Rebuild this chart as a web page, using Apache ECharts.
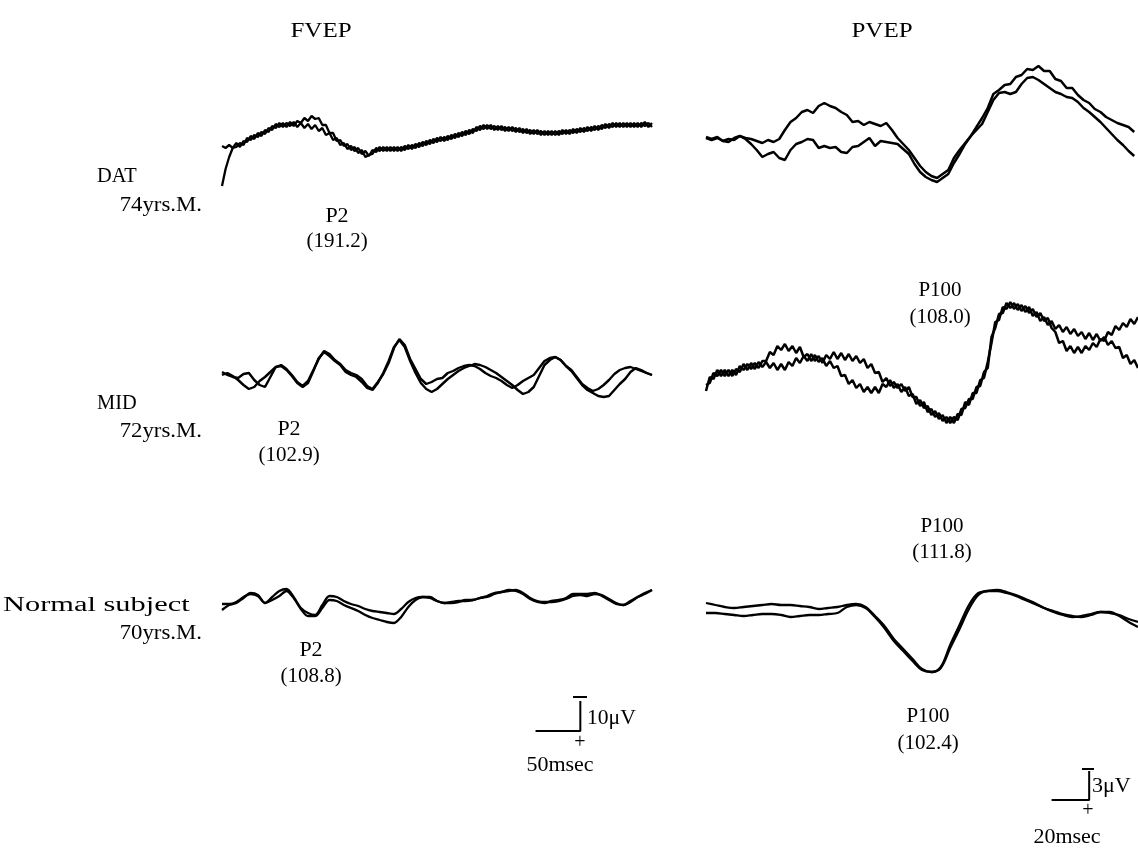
<!DOCTYPE html>
<html><head><meta charset="utf-8">
<script src="https://cdn.jsdelivr.net/npm/echarts@6/dist/echarts.min.js"></script>
<style>html,body{margin:0;padding:0;background:#fff}#c{width:1138px;height:850px}</style>
</head><body><div id="c"></div>
<script>
// ---- sampling steps (ms) ----
const fvepDatStep = 4, fvepMidStep = 6, fvepNorStep = 8;
const pvepDatStep = 3, pvepMidStep = 2, pvepNorStep = 5;

// ---- FVEP traces (amplitude, positive = down) ----
const fvepDatA = [41,24,12,3,2,-2,0,-7,-5,-10,-8,-13,-11,-17,-15,-21,-18,-22,-18,-23,-19,-24,-22,-27,-24,-29,-26,-27,-20,-20,-12,-12,-4,-5,1,-1,5,2,8,5,12,10,9,3,6,2,6,2,6,2,6,1,4,0,3,-2,1,-4,-1,-6,-3,-8,-4,-9,-6,-11,-8,-13,-10,-15,-12,-18,-15,-20,-16,-20,-15,-19,-15,-18,-14,-18,-13,-17,-12,-16,-11,-15,-11,-14,-10,-14,-10,-14,-10,-15,-11,-15,-12,-16,-13,-17,-14,-18,-15,-19,-16,-21,-17,-22,-18,-22,-18,-22,-18,-22,-18,-22,-19,-22,-18];
const fvepDatB = [1,3,0,3,-2,2,-4,-3,-9,-6,-12,-9,-15,-13,-19,-17,-22,-18,-22,-19,-23,-18,-22,-17,-21,-16,-20,-14,-17,-10,-12,-5,-7,0,-2,4,1,6,3,9,6,11,5,7,2,6,2,6,2,6,2,5,0,4,-1,2,-3,0,-5,-2,-7,-4,-8,-5,-10,-7,-12,-9,-14,-11,-16,-14,-19,-16,-20,-16,-19,-15,-19,-14,-18,-14,-17,-13,-16,-12,-15,-11,-15,-10,-14,-10,-14,-10,-14,-11,-15,-11,-16,-12,-17,-13,-18,-14,-19,-15,-20,-17,-21,-18,-22,-18,-22,-18,-22,-18,-22,-18,-23,-18,-22];
const fvepMidA = [-3,0,2,3,-1,-2,5,10,12,2,-8,-10,-6,0,7,11,6,-5,-16,-24,-21,-15,-11,-5,-2,0,4,11,14,7,-1,-12,-27,-36,-30,-16,-6,4,9,7,4,3,-2,-4,-7,-9,-10,-9,-6,-2,1,3,6,10,13,10,6,3,0,-7,-14,-17,-18,-15,-9,-5,2,9,13,16,14,10,5,-1,-5,-7,-8,-6,-4,-2,0];
const fvepMidB = [0,-2,1,5,10,14,12,6,2,-3,-8,-9,-5,1,8,12,8,-4,-17,-23,-19,-14,-10,-3,0,2,7,13,15,8,-2,-14,-28,-35,-28,-14,-2,8,14,17,14,9,4,0,-4,-7,-9,-11,-10,-8,-5,-2,2,6,10,15,19,17,12,1,-10,-15,-18,-15,-9,-4,3,10,15,18,21,22,21,15,9,4,-3,-7,-5,-2,0];
const fvepNorA = [10,5,3,-2,-7,-5,3,-3,-9,-11,-3,8,13,15,5,-4,-3,1,4,6,9,11,12,13,14,9,2,-2,-3,-3,1,3,2,1,1,0,-2,-3,-6,-8,-9,-10,-7,-2,1,2,2,1,-1,-4,-5,-4,-6,-5,-1,3,5,1,-3,-7,-10];
const fvepNorB = [4,4,2,-3,-6,-4,3,0,-4,-9,-2,9,16,16,8,0,1,5,8,11,15,18,20,22,23,17,7,0,-3,-2,1,3,3,2,0,0,-2,-4,-7,-8,-10,-9,-6,-1,2,3,1,0,-2,-6,-6,-6,-7,-4,0,4,5,2,-3,-6,-10];

// ---- PVEP traces ----
const pvepDatA = [7,9,7,11,9,10,6,8,9,11,13,10,12,9,0,-8,-12,-18,-20,-17,-24,-27,-24,-22,-18,-15,-8,-9,-5,-8,-6,-4,-7,0,8,14,20,28,36,42,46,48,44,40,28,20,13,6,-3,-12,-22,-36,-40,-45,-46,-53,-55,-61,-60,-64,-59,-59,-51,-49,-42,-42,-35,-30,-27,-21,-18,-13,-10,-7,-5,-3,2];
const pvepDatB = [8,10,8,11,12,8,6,9,14,20,27,24,22,28,30,20,14,12,9,10,18,16,18,17,22,23,17,16,12,8,16,11,12,13,14,19,24,34,42,47,50,52,48,44,33,24,14,6,0,-6,-18,-30,-37,-38,-36,-38,-46,-52,-53,-50,-46,-42,-38,-36,-33,-32,-28,-22,-18,-13,-8,-2,4,10,15,21,26];
const pvepMidA = [31,17,19,10,16,10,16,10,15,6,10,4,9,3,8,1,1,-8,-5,-14,-10,-16,-9,-14,-7,-13,-3,-6,1,-5,2,-2,6,1,8,6,16,15,24,20,28,24,32,27,33,27,33,24,27,20,28,24,32,27,36,34,44,40,48,46,55,51,59,55,63,57,63,54,55,42,45,33,33,20,18,2,-17,-38,-40,-53,-51,-58,-51,-56,-49,-54,-47,-51,-43,-47,-39,-42,-32,-28,-17,-19,-9,-14,-7,-13,-7,-14,-10,-17,-13,-21,-19,-28,-25,-34,-30,-37,-33,-41,-36,-43];
const pvepMidB = [25,23,13,16,10,16,10,16,9,12,4,10,3,9,2,7,2,8,3,10,4,10,2,6,-2,3,-4,1,-6,1,-4,3,-5,-1,-8,-1,-7,0,-6,1,-4,3,-1,8,4,13,12,22,18,26,22,28,24,31,27,37,37,46,42,52,49,57,53,61,57,63,57,60,49,48,39,39,27,26,12,8,-23,-32,-46,-47,-57,-52,-57,-50,-55,-48,-53,-44,-48,-39,-43,-35,-39,-31,-35,-28,-33,-26,-31,-24,-28,-21,-27,-20,-26,-19,-23,-15,-19,-12,-13,-2,-5,4,0,8];
const pvepNorA = [-27,-25,-23,-22,-23,-24,-25,-26,-25,-25,-24,-23,-21,-22,-23,-25,-26,-23,-14,-4,9,19,29,39,42,37,15,-5,-25,-37,-39,-40,-38,-35,-31,-27,-22,-19,-16,-14,-13,-15,-18,-18,-14,-8,-3];
const pvepNorB = [-17,-17,-16,-15,-14,-15,-16,-16,-15,-13,-14,-15,-15,-16,-17,-23,-25,-22,-13,-2,11,21,31,40,42,38,18,-1,-21,-35,-39,-39,-37,-34,-30,-26,-22,-18,-15,-13,-14,-16,-18,-17,-15,-11,-8];

// ---- scale bars ----
const fvepBar = { ms: 50, uv: 10, end: 400 };
const pvepBar = { ms: 20, uv: 3, end: 204 };

// ---- texts ----
const panelTitles = ['FVEP', 'PVEP'];
const rowNames = ['DAT', 'MID', 'Normal subject'];
const rowAges = ['74yrs.M.', '72yrs.M.', '70yrs.M.'];
const fvepPeaks = [['P2', '(191.2)'], ['P2', '(102.9)'], ['P2', '(108.8)']];
const pvepPeaks = [['P100', '(108.0)'], ['P100', '(111.8)'], ['P100', '(102.4)']];

const FONT = '20px "Liberation Serif", "Times New Roman", serif';

const grids = [
  { left: 222, width: 430, top: 100, height: 90 },
  { left: 222, width: 430, top: 330, height: 90 },
  { left: 222, width: 430, top: 570, height: 60 },
  { left: 706, width: 432, top: 60, height: 140 },
  { left: 706, width: 432, top: 290, height: 140 },
  { left: 706, width: 432, top: 580, height: 100 },
  { left: 222, width: 430, top: 701, height: 30 },
  { left: 706, width: 432, top: 771, height: 29 }
];
const yr = [[-45,45],[-45,45],[-30,30],[-70,70],[-70,70],[-50,50],[0,fvepBar.uv],[0,pvepBar.uv]];
const xr = [480,480,480,230,230,230,480,230];

function trace(g, step, arr, w, sm) {
  return { type: 'line', xAxisIndex: g, yAxisIndex: g, data: arr.map((v, i) => [i * step, v]),
    symbol: 'none', smooth: sm || false, lineStyle: { color: '#000', width: w }, silent: true, clip: false, z: 3 };
}
function bar(g, b, w) {
  return { type: 'line', xAxisIndex: g, yAxisIndex: g, symbol: 'none', clip: false, silent: true,
    lineStyle: { color: '#000', width: w },
    data: [[b.end - b.ms, b.uv], [b.end, b.uv], [b.end, 0]] };
}

const series = [
  trace(0, fvepDatStep, fvepDatA, 2.3), trace(0, fvepDatStep, fvepDatB, 2.3),
  trace(1, fvepMidStep, fvepMidA, 2.4), trace(1, fvepMidStep, fvepMidB, 2.4),
  trace(2, fvepNorStep, fvepNorA, 2.3, 0.3), trace(2, fvepNorStep, fvepNorB, 2.3, 0.3),
  trace(3, pvepDatStep, pvepDatA, 2.5), trace(3, pvepDatStep, pvepDatB, 2.5),
  trace(4, pvepMidStep, pvepMidA, 2.5), trace(4, pvepMidStep, pvepMidB, 2.5),
  trace(5, pvepNorStep, pvepNorA, 2.3, 0.35), trace(5, pvepNorStep, pvepNorB, 2.3, 0.35),
  bar(6, fvepBar, 2), bar(7, pvepBar, 2)
];

function txt(text, x, y, align, sx) {
  const a = align || 'center';
  return { type: 'text', silent: true, x, y, scaleX: sx || 1, scaleY: 1,
    style: { text, x: 0, y: 0, font: FONT, fill: '#000',
      textAlign: a, textVerticalAlign: 'middle', align: a, verticalAlign: 'middle' } };
}
const graphics = [
  txt(panelTitles[0], 321, 32, 'center', 1.25), txt(panelTitles[1], 882, 32, 'center', 1.25),
  txt(rowNames[0], 97, 177, 'left', 1.02), txt(rowAges[0], 202, 206, 'right', 1.14),
  txt(rowNames[1], 97, 404, 'left', 1.02), txt(rowAges[1], 202, 432, 'right', 1.14),
  txt(rowNames[2], 3, 606, 'left', 1.52), txt(rowAges[2], 202, 634, 'right', 1.14),
  txt(fvepPeaks[0][0], 337, 217, 'center', 1.1), txt(fvepPeaks[0][1], 337, 242, 'center', 1.05),
  txt(fvepPeaks[1][0], 289, 430, 'center', 1.1), txt(fvepPeaks[1][1], 289, 456, 'center', 1.05),
  txt(fvepPeaks[2][0], 311, 651, 'center', 1.1), txt(fvepPeaks[2][1], 311, 677, 'center', 1.05),
  txt(pvepPeaks[0][0], 940, 291, 'center', 1.05), txt(pvepPeaks[0][1], 940, 318, 'center', 1.05),
  txt(pvepPeaks[1][0], 942, 527, 'center', 1.05), txt(pvepPeaks[1][1], 942, 553, 'center', 1.05),
  txt(pvepPeaks[2][0], 928, 717, 'center', 1.05), txt(pvepPeaks[2][1], 928, 744, 'center', 1.05),
  // scale bar marks and labels
  { type: 'line', silent: true, shape: { x1: 573, y1: 697, x2: 587, y2: 697 }, style: { stroke: '#000', lineWidth: 2 } },
  txt('+', 580, 743), txt('10\u03bcV', 587, 719, 'left', 1.08), txt('50msec', 560, 766, 'center', 1.1),
  { type: 'line', silent: true, shape: { x1: 1082, y1: 769, x2: 1094, y2: 769 }, style: { stroke: '#000', lineWidth: 2 } },
  txt('+', 1088, 811), txt('3\u03bcV', 1092, 787, 'left', 1.1), txt('20msec', 1067, 838, 'center', 1.1)
];

const chart = echarts.init(document.getElementById('c'), null, { renderer: 'canvas' });
chart.setOption({
  backgroundColor: '#fff',
  animation: false,
  grid: grids.map(g => Object.assign({ containLabel: false }, g)),
  xAxis: grids.map((g, i) => ({ type: 'value', gridIndex: i, min: 0, max: xr[i], show: false })),
  yAxis: grids.map((g, i) => ({ type: 'value', gridIndex: i, min: yr[i][0], max: yr[i][1], inverse: true, show: false })),
  series,
  graphic: graphics
});
</script></body></html>
